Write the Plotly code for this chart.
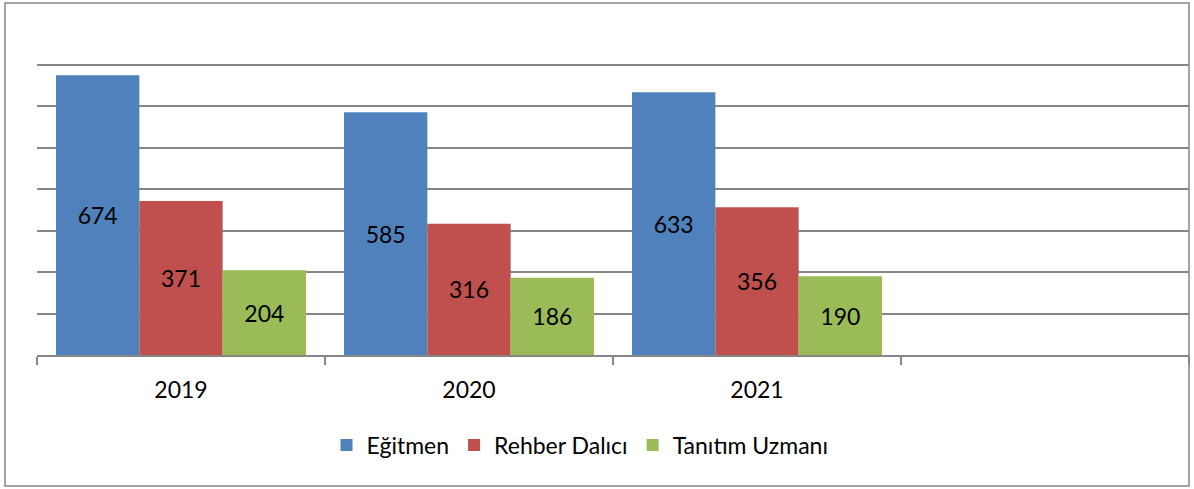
import plotly.graph_objects as go

years = ["2019", "2020", "2021"]
egitmen = [674, 585, 633]
rehber = [371, 316, 356]
tanitim = [204, 186, 190]
series_names = ["Eğitmen", "Rehber Dalıcı", "Tanıtım Uzmanı"]
colors = ["#4F81BD", "#C0504D", "#9BBB59"]

xpos = list(range(len(years)))
FONT = "Lato"

fig = go.Figure()
for name, vals, col in zip(series_names, [egitmen, rehber, tanitim], colors):
    fig.add_trace(go.Bar(
        x=xpos, y=vals, name=name, marker=dict(color=col, line=dict(width=0)),
        text=[str(v) for v in vals], textposition="inside", insidetextanchor="middle",
        textfont=dict(color="black", size=23, family=FONT), textangle=0,
        constraintext="none",
    ))

W, H = 1194, 489
ml, mr, mt, mb = 37, 5, 23, 134
pw, ph = W - ml - mr, H - mt - mb

fig.update_layout(
    width=W, height=H,
    margin=dict(l=ml, r=mr, t=mt, b=mb, pad=0, autoexpand=False),
    barmode="group", bargap=0.132, bargroupgap=0,
    plot_bgcolor="white", paper_bgcolor="white",
    font=dict(family=FONT, size=23, color="black"),
    showlegend=True,
    legend=dict(orientation="h", x=(580 - ml) / pw, xanchor="center",
                y=(355 - 445) / ph, yanchor="middle",
                font=dict(size=23, family=FONT), itemsizing="constant",
                traceorder="normal", itemwidth=30),
    uniformtext=dict(mode=False),
)
fig.update_xaxes(
    range=[-0.5, 3.5], tickmode="array", tickvals=xpos, ticktext=years,
    ticks="", showgrid=False, showline=True, linecolor="#868686", linewidth=1.5,
    zeroline=False, tickfont=dict(size=23, family=FONT, color="black"),
    ticklabelstandoff=14, automargin=False,
    minor=dict(tick0=-0.5, dtick=1, ticks="outside", ticklen=8, tickcolor="#868686",
               tickwidth=1.5, showgrid=False),
)
fig.update_yaxes(
    range=[0, 800], dtick=100, showticklabels=False, showgrid=True,
    gridcolor="#868686", gridwidth=1.5, zeroline=False, showline=False, ticks="",
    automargin=False,
)
fig.add_shape(type="rect", xref="paper", yref="paper",
              x0=(5 - ml) / pw, x1=(1189 - ml) / pw,
              y0=-(486 - 355) / ph, y1=1 + (mt - 3) / ph,
              line=dict(color="#868686", width=1.5), fillcolor="rgba(0,0,0,0)",
              layer="above")

fig.write_html("out.html", config={"displayModeBar": False},
               post_script="document.body.style.margin='0';document.body.style.overflow='hidden';")
